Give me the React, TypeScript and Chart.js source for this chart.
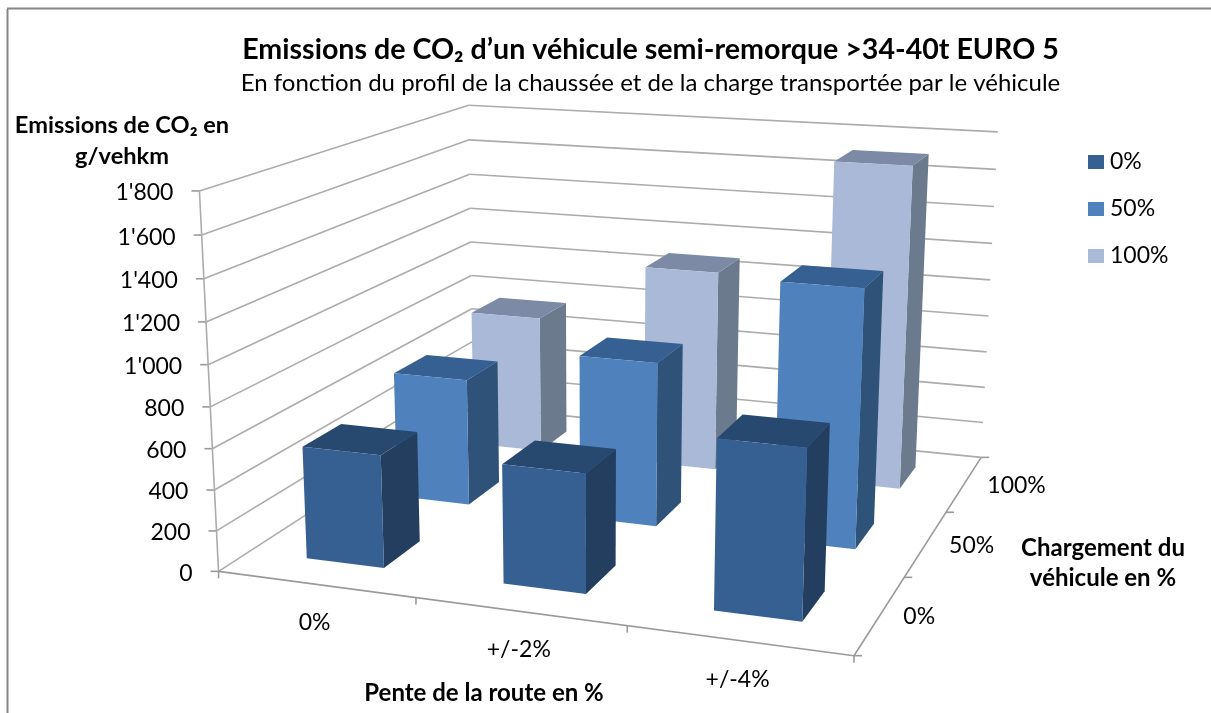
import React, { useEffect, useRef } from "react";
import { Chart, BarController, registerables } from "chart.js";

// Chart content
const slopeLabels = ["0%", "+/-2%", "+/-4%"];
const loadLabels = ["0%", "50%", "100%"];
const emissionsEmpty = [555, 575, 800];
const emissionsHalf = [660, 840, 1290];
const emissionsFull = [755, 1085, 1710];

const titleText = "Emissions de CO₂ d’un véhicule semi-remorque >34-40t EURO 5";
const subtitleText = "En fonction du profil de la chaussée et de la charge transportée par le véhicule";
const valueTitle = ["Emissions de CO₂ en", "g/vehkm"];
const slopeTitle = "Pente de la route en %";
const loadTitle = ["Chargement du", "véhicule en %"];

const FONT = "Lato, Carlito, Calibri, sans-serif";
const GRID = "#acacac";
const AXIS = "#9a9a9a";

// Box corners of the 3D frame (u across, v up, w into depth, all 0..1) and where they land on screen.
const frameFit: number[][] = [
  [0, 0, 0, 218, 571],
  [1, 0, 0, 854, 656],
  [1, 0, 1, 981, 457],
  [0, 0, 1, 474, 407],
  [0, 1, 0, 200, 191],
  [1, 1, 1, 998, 132],
  [0, 1, 1, 468, 105],
];

// Least-squares fit of a projective camera matrix to the frame corners.
function fitCamera(pts: number[][]): number[] {
  const rows: number[][] = [];
  const rhs: number[] = [];
  for (const [u, v, w, px, py] of pts) {
    rows.push([u, v, w, 1, 0, 0, 0, 0, -px * u, -px * v, -px * w]);
    rhs.push(px);
    rows.push([0, 0, 0, 0, u, v, w, 1, -py * u, -py * v, -py * w]);
    rhs.push(py);
  }
  const n = 11;
  const a = Array.from({ length: n }, (_, i) =>
    Array.from({ length: n + 1 }, (_, j) =>
      rows.reduce((s, r, k) => s + r[i] * (j === n ? rhs[k] : r[j]), 0)
    )
  );
  for (let c = 0; c < n; c++) {
    let p = c;
    for (let r = c + 1; r < n; r++) if (Math.abs(a[r][c]) > Math.abs(a[p][c])) p = r;
    [a[c], a[p]] = [a[p], a[c]];
    for (let r = 0; r < n; r++) {
      if (r === c) continue;
      const f = a[r][c] / a[c][c];
      for (let j = c; j <= n; j++) a[r][j] -= f * a[c][j];
    }
  }
  return a.map((r, i) => r[n] / r[i]);
}

const cam = fitCamera(frameFit);
function project(u: number, v: number, w: number): [number, number] {
  const d = cam[8] * u + cam[9] * v + cam[10] * w + 1;
  return [
    (cam[0] * u + cam[1] * v + cam[2] * w + cam[3]) / d,
    (cam[4] * u + cam[5] * v + cam[6] * w + cam[7]) / d,
  ];
}

// Normalised positions read back from the chart's own scales.
const normX = (s: any, px: number) => (px - s.left) / s.width;
const normY = (s: any, px: number) => (s.bottom - px) / s.height;

function polygon(ctx: CanvasRenderingContext2D, pts: [number, number][], fill: string) {
  ctx.beginPath();
  pts.forEach(([x, y], i) => (i ? ctx.lineTo(x, y) : ctx.moveTo(x, y)));
  ctx.closePath();
  ctx.fillStyle = fill;
  ctx.fill();
}

function line(ctx: CanvasRenderingContext2D, a: [number, number], b: [number, number], color: string, width = 1.6) {
  ctx.beginPath();
  ctx.moveTo(a[0], a[1]);
  ctx.lineTo(b[0], b[1]);
  ctx.strokeStyle = color;
  ctx.lineWidth = width;
  ctx.stroke();
}

// Bar controller that extrudes each value into a perspective column.
class Bar3DController extends BarController {
  static id = "bar3d";
  static defaults = BarController.defaults;
  static overrides = BarController.overrides;

  draw() {
    const chart: any = this.chart;
    const ctx: CanvasRenderingContext2D = chart.ctx;
    const { x, y, z } = chart.scales;
    const ds: any = this.getDataset();
    const w = normX(z, z.getPixelForValue(this.index));
    const halfU = (0.4 * 0.5) / x.ticks.length;
    const halfW = (0.4 * 0.5) / z.ticks.length;
    (ds.data as number[]).forEach((value, i) => {
      const u = normX(x, x.getPixelForValue(i));
      const v = normY(y, y.getPixelForValue(value));
      const [u0, u1, w0, w1] = [u - halfU, u + halfU, w - halfW, w + halfW];
      polygon(ctx, [project(u1, 0, w0), project(u1, 0, w1), project(u1, v, w1), project(u1, v, w0)], ds.sideColor);
      polygon(ctx, [project(u0, v, w0), project(u1, v, w0), project(u1, v, w1), project(u0, v, w1)], ds.topColor);
      polygon(ctx, [project(u0, 0, w0), project(u1, 0, w0), project(u1, v, w0), project(u0, v, w0)], ds.backgroundColor);
    });
  }
}

function text(
  ctx: CanvasRenderingContext2D,
  s: string,
  x: number,
  y: number,
  size: number,
  align: CanvasTextAlign = "center",
  bold = false
) {
  ctx.font = `${bold ? "bold " : ""}${size}px ${FONT}`;
  ctx.textAlign = align;
  ctx.textBaseline = "middle";
  ctx.fillStyle = "#000";
  ctx.fillText(s, x, y);
}

// Walls, axes and their labels, plus the outer frame and the legend.
const framePlugin = {
  id: "frame3d",
  beforeDatasetsDraw(chart: any) {
    const ctx: CanvasRenderingContext2D = chart.ctx;
    const { x, y, z } = chart.scales;
    ctx.save();
    ctx.lineCap = "butt";

    line(ctx, [7.5, 9], [7.5, 720], "#868686", 2);
    line(ctx, [7, 8.5], [1300, 8.5], "#868686", 2);

    // Horizontal grid on the left and back walls, value ticks and labels.
    y.ticks.forEach((t: any, i: number) => {
      const v = normY(y, y.getPixelForTick(i));
      const front = project(0, v, 0);
      const back = project(0, v, 1);
      line(ctx, front, back, GRID);
      line(ctx, back, project(1, v, 1), GRID);
      line(ctx, [front[0] - 8, front[1]], front, AXIS);
      text(ctx, t.label, front[0] - 26, front[1] + 2, 23, "right");
    });

    line(ctx, project(0, 0, 0), project(0, 1, 0), GRID);
    line(ctx, project(0, 0, 0), project(1, 0, 0), AXIS);
    line(ctx, project(1, 0, 0), project(1, 0, 1), AXIS);

    // Slope axis along the front edge.
    const nx = x.ticks.length;
    for (let i = 0; i <= nx; i++) {
      const p = project(i / nx, 0, 0);
      line(ctx, p, [p[0], p[1] + 7], AXIS);
    }
    x.ticks.forEach((t: any, i: number) => {
      const p = project(normX(x, x.getPixelForTick(i)), 0, 0);
      text(ctx, t.label, p[0] - 1, p[1] + 38 + i * 0.5, 23);
    });

    // Load axis along the right edge.
    const nz = z.ticks.length;
    for (let i = 0; i <= nz; i++) {
      const p = project(1, 0, i / nz);
      line(ctx, p, [p[0] + 8, p[1]], AXIS);
    }
    z.ticks.forEach((t: any, i: number) => {
      const p = project(1, 0, normX(z, z.getPixelForTick(i)));
      text(ctx, t.label, p[0] + 23, p[1] + 2, 23, "left");
    });

    // Axis titles.
    text(ctx, valueTitle[0], 122, 125, 23.6, "center", true);
    text(ctx, valueTitle[1], 122, 156, 23.6, "center", true);
    text(ctx, slopeTitle, 484, 693, 24, "center", true);
    text(ctx, loadTitle[0], 1103, 548, 24, "center", true);
    text(ctx, loadTitle[1], 1103, 578, 24, "center", true);

    // Legend.
    chart.data.datasets.forEach((d: any, i: number) => {
      const cy = 162 + i * 47;
      ctx.fillStyle = d.backgroundColor;
      ctx.fillRect(1088, cy - 7, 16, 14);
      text(ctx, d.label, 1110, cy, 23, "left");
    });
    ctx.restore();
  },
};

Chart.register(...registerables, Bar3DController);

const datasetBase = { clip: false };

export default function App() {
  const ref = useRef<HTMLCanvasElement>(null);
  useEffect(() => {
    const chart = new Chart(ref.current!, {
      type: "bar3d" as any,
      data: {
        labels: slopeLabels,
        datasets: [
          { ...datasetBase, label: loadLabels[0], data: emissionsEmpty, backgroundColor: "#376092", sideColor: "#233e5f", topColor: "#27486f" },
          { ...datasetBase, label: loadLabels[1], data: emissionsHalf, backgroundColor: "#4f81bd", sideColor: "#2f5279", topColor: "#366092" },
          { ...datasetBase, label: loadLabels[2], data: emissionsFull, backgroundColor: "#aab9d7", sideColor: "#6c7a8d", topColor: "#7d8aa5" },
        ] as any,
      },
      plugins: [framePlugin],
      options: {
        responsive: false,
        animation: false,
        events: [],
        layout: { padding: { left: 90, top: 33 } },
        plugins: {
          legend: { display: false },
          tooltip: { enabled: false },
          title: {
            display: true,
            text: titleText,
            color: "#000",
            font: { family: FONT, size: 28.6, weight: "bold" },
            padding: { top: 0, bottom: 1.5 },
          },
          subtitle: {
            display: true,
            text: subtitleText,
            color: "#000",
            font: { family: FONT, size: 24, weight: "normal" },
            padding: { top: 0, bottom: 0 },
          },
        },
        scales: {
          x: { type: "category", offset: true, display: false },
          y: {
            type: "linear",
            min: 0,
            max: 1800,
            display: false,
            ticks: {
              stepSize: 200,
              callback: (v: any) => String(v).replace(/\B(?=(\d{3})+$)/g, "'"),
            },
          },
          z: { type: "category", axis: "x", labels: loadLabels, offset: true, display: false },
        } as any,
      },
    });
    return () => chart.destroy();
  }, []);
  return (
    <div style={{ position: "fixed", left: 0, top: 0, background: "#fff" }}>
      <canvas ref={ref} width={1211} height={713} style={{ display: "block" }} />
    </div>
  );
}
